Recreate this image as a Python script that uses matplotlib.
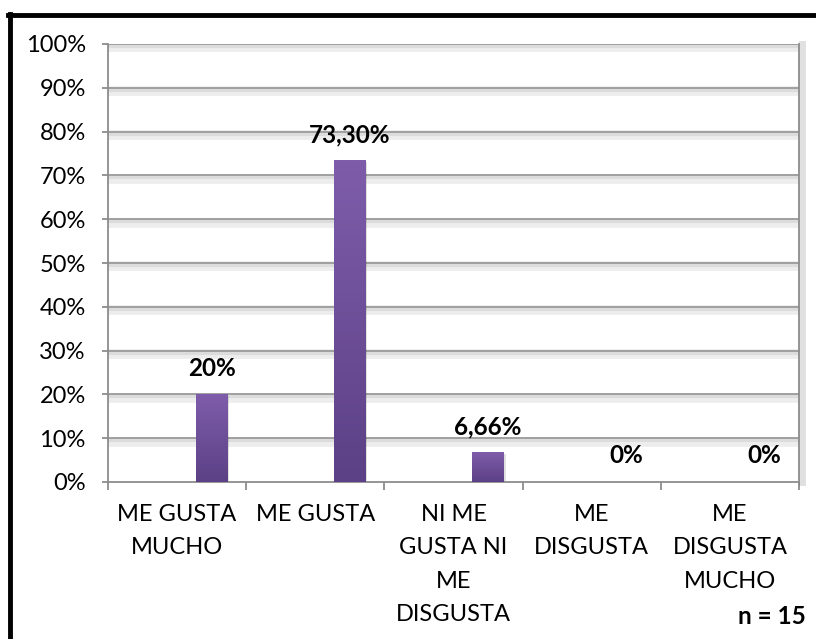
import matplotlib
matplotlib.use("Agg")
import matplotlib.pyplot as plt
import matplotlib.patheffects as pe
from matplotlib.colors import LinearSegmentedColormap
from matplotlib.patches import Rectangle
from matplotlib.lines import Line2D
import numpy as np

categories = ["ME GUSTA\nMUCHO", "ME GUSTA", "NI ME\nGUSTA NI\nME\nDISGUSTA",
              "ME\nDISGUSTA", "ME\nDISGUSTA\nMUCHO"]
values = [0.20, 0.733, 0.0666, 0.0, 0.0]
value_labels = ["20%", "73,30%", "6,66%", "0%", "0%"]
y_ticks = [i / 10 for i in range(11)]
y_tick_labels = ["%d%%" % (i * 10) for i in range(11)]

plt.rcParams['font.family'] = ['Lato', 'DejaVu Sans']

fig = plt.figure(figsize=(8.16, 6.39), dpi=100)
ax = fig.add_axes([108 / 816, 1 - 482 / 639, (799 - 108) / 816, (482 - 44) / 639])

grad = LinearSegmentedColormap.from_list("purple", ["#5C4186", "#7E5CAA"])
bar_w = 0.23
xs = [i + 0.25 for i in range(len(values))]
for x, v, lab in zip(xs, values, value_labels):
    if v > 0:
        # soft shadow behind the bar
        ax.add_patch(Rectangle((x - bar_w / 2 + 0.012, 0), bar_w, v - 0.003,
                               facecolor="#000000", alpha=0.12, lw=0, zorder=2))
        img = np.linspace(0, 1, 100).reshape(-1, 1)
        ax.imshow(img, cmap=grad, origin="lower", aspect="auto", zorder=3,
                  extent=[x - bar_w / 2, x + bar_w / 2, 0, v])
    ax.annotate(lab, (x, v), xytext=(0, 19), textcoords="offset points",
                ha="center", va="center", fontsize=17.5, fontweight="bold")

ax.set_xlim(-0.5, len(values) - 0.5)
ax.set_ylim(0, 1)

# gridlines with a soft drop shadow
shadow = [pe.SimpleLineShadow(offset=(0, -2.5), shadow_color="#000000", alpha=0.07, linewidth=7),
          pe.SimpleLineShadow(offset=(0, -1.5), shadow_color="#000000", alpha=0.07, linewidth=3),
          pe.Normal()]
for y in y_ticks[1:]:
    ax.axhline(y, color="#9A9A9A", lw=1.3, zorder=1, path_effects=shadow)

ax.set_yticks(y_ticks)
ax.set_yticklabels(y_tick_labels, fontsize=17)
ax.set_xticks(range(len(categories)))
ax.set_xticklabels(categories, fontsize=17, linespacing=1.72, va="top")
ax.set_xticks([i - 0.5 for i in range(len(categories) + 1)], minor=True)
ax.tick_params(axis="x", which="major", length=0, pad=16)
ax.tick_params(axis="x", which="minor", length=6, width=1.3, color="#8C8C8C", direction="out")
ax.tick_params(axis="y", length=4, width=1.3, color="#8C8C8C", pad=12)

for side in ["left", "bottom", "right"]:
    ax.spines[side].set_color("#8C8C8C")
    ax.spines[side].set_linewidth(1.3)
ax.spines["right"].set_path_effects(
    [pe.SimpleLineShadow(offset=(2.5, 0), shadow_color="#000000", alpha=0.12, linewidth=5), pe.Normal()])
ax.spines["top"].set_visible(False)

fig.text(772 / 816, 1 - 617 / 639, "n = 15", ha="center", va="center",
         fontsize=17.5, fontweight="bold")

# black frame around the chart
fig.add_artist(Line2D([9.5 / 816, 9.5 / 816], [1 - 14 / 639, 0], color="black", lw=3.5,
                      transform=fig.transFigure))
fig.add_artist(Line2D([7.5 / 816, 1], [1 - 14.5 / 639, 1 - 14.5 / 639], color="black", lw=3.5,
                      transform=fig.transFigure))

fig.savefig("out.png", dpi=100)
